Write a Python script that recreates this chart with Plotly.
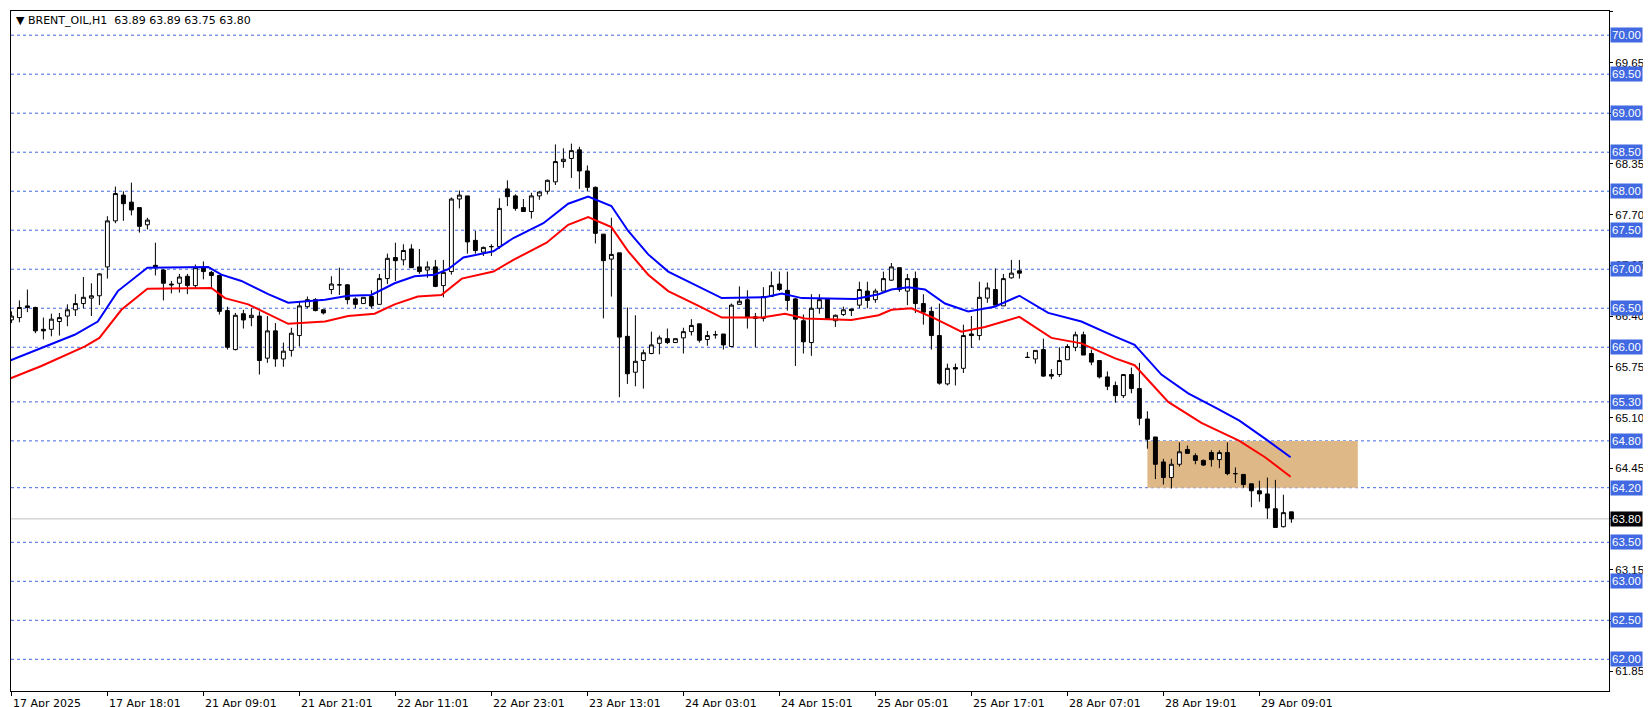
import plotly.graph_objects as go

# OHLC per hourly bar (index = bar number)
opens = [66.35,66.38,66.53,66.51,66.23,66.23,66.33,66.40,66.48,66.56,66.63,66.66,67.03,67.62,67.95,67.86,67.79,67.57,67.05,66.99,
         66.81,66.82,66.91,66.79,67.02,66.96,66.92,66.47,65.97,66.43,66.38,66.40,65.86,66.21,65.85,65.96,66.15,66.52,66.61,66.48,
         66.74,66.80,66.80,66.62,66.56,66.65,66.55,66.88,67.15,67.12,67.26,67.03,66.99,67.03,66.79,66.97,67.90,67.94,67.37,67.22,
         67.29,67.29,68.03,67.94,67.79,67.74,67.94,68.00,68.12,68.38,68.42,68.53,68.26,68.05,67.45,67.13,67.21,66.14,65.68,65.83,
         65.92,66.05,66.11,66.06,66.12,66.20,66.30,66.10,66.16,66.17,66.01,66.55,66.61,66.39,66.37,66.65,66.81,66.73,66.62,66.34,
         66.06,66.50,66.62,66.34,66.42,66.49,66.54,66.72,66.61,66.72,66.86,67.02,66.72,66.88,66.56,66.46,66.15,65.53,65.74,65.73,
         66.17,66.15,66.63,66.74,66.53,66.89,66.98,65.87,65.85,65.97,65.65,65.65,65.84,66.00,66.16,65.92,65.83,65.62,65.51,65.38,
         65.65,65.47,65.08,64.85,64.53,64.33,64.50,64.69,64.61,64.55,64.65,64.56,64.65,64.38,64.37,64.25,64.16,64.12,63.93,63.70,
         63.89]
highs = [66.46,66.60,66.74,66.52,66.38,66.43,66.44,66.55,66.68,66.90,66.82,66.95,67.68,68.06,68.00,68.11,67.79,67.66,67.34,67.00,
         66.85,66.94,66.94,67.06,67.10,66.98,66.93,66.52,66.44,66.48,66.50,66.46,66.40,66.31,66.06,66.25,66.59,66.65,66.63,66.48,
         66.91,67.02,66.81,66.64,66.64,66.73,66.94,67.20,67.34,67.32,67.32,67.26,67.10,67.12,67.12,67.92,68.01,67.94,67.49,67.29,
         67.32,67.91,68.14,67.96,67.90,67.98,68.00,68.15,68.60,68.55,68.61,68.57,68.33,68.06,67.45,67.66,67.21,66.51,66.41,65.97,
         66.20,66.15,66.24,66.11,66.25,66.36,66.30,66.21,66.21,66.17,66.56,66.78,66.73,66.44,66.77,66.97,66.97,66.97,66.63,66.42,
         66.68,66.68,66.62,66.42,66.52,66.49,66.84,66.84,66.75,66.97,67.08,67.02,66.94,66.97,66.68,66.52,66.56,65.79,65.79,66.29,
         66.40,66.84,66.83,67.01,66.94,67.12,67.12,65.94,65.96,66.11,65.72,66.00,66.04,66.20,66.20,65.97,65.83,65.69,65.56,65.65,
         65.74,65.80,65.18,64.85,64.57,64.57,64.78,64.74,64.64,64.56,64.68,64.68,64.78,64.46,64.37,64.25,64.29,64.33,64.30,64.11,
         63.89]
lows = [66.31,66.32,66.45,66.18,66.10,66.14,66.15,66.27,66.40,66.50,66.40,66.54,66.88,67.59,67.62,67.69,67.47,67.51,66.92,66.60,
        66.69,66.70,66.68,66.76,66.87,66.76,66.42,65.97,65.96,66.24,66.27,65.65,65.80,65.75,65.75,65.88,66.01,66.50,66.46,66.42,
        66.68,66.67,66.55,66.50,66.56,66.50,66.55,66.81,66.85,67.05,67.02,66.94,66.89,66.77,66.64,66.93,67.78,67.20,67.20,67.17,
        67.17,67.26,67.81,67.75,67.74,67.65,67.89,67.96,68.08,68.30,68.17,68.03,68.00,67.33,66.37,66.65,65.36,65.53,65.50,65.47,
        65.91,65.91,66.04,66.06,65.92,66.15,66.06,66.02,66.11,65.97,66.01,66.55,66.24,66.00,66.33,66.65,66.72,66.47,65.76,65.92,
        65.89,66.43,66.36,66.26,66.40,66.40,66.50,66.50,66.57,66.72,66.85,66.71,66.54,66.44,66.29,65.97,65.52,65.51,65.51,65.67,
        65.99,66.09,66.57,66.54,66.53,66.88,66.88,65.87,65.79,65.62,65.59,65.62,65.84,65.95,65.90,65.77,65.60,65.45,65.29,65.35,
        65.41,65.00,64.70,64.31,64.24,64.19,64.47,64.64,64.50,64.48,64.47,64.45,64.36,64.26,64.20,63.95,64.02,63.80,63.69,63.69,
        63.75]
closes = [66.40,66.51,66.51,66.21,66.21,66.36,66.38,66.48,66.56,66.64,66.66,66.94,67.62,67.97,67.84,67.76,67.55,67.63,67.02,66.82,
          66.80,66.90,66.79,67.02,66.97,66.92,66.46,66.00,66.41,66.35,66.41,65.83,66.21,65.85,65.95,66.18,66.53,66.61,66.47,66.44,
          66.81,66.80,66.61,66.55,66.64,66.53,66.88,67.14,67.11,67.24,67.02,66.97,67.03,66.78,66.96,67.90,67.95,67.35,67.24,67.28,
          67.29,67.78,67.93,67.78,67.74,67.94,67.99,68.14,68.38,68.41,68.52,68.26,68.05,67.46,67.11,67.19,66.13,65.66,65.82,65.93,
          66.03,66.12,66.06,66.11,66.20,66.28,66.09,66.15,66.16,66.03,66.54,66.59,66.38,66.37,66.65,66.79,66.74,66.60,66.36,66.07,
          66.50,66.61,66.36,66.41,66.48,66.47,66.74,66.60,66.72,66.88,67.03,66.74,66.88,66.56,66.45,66.15,65.54,65.73,65.72,66.15,
          66.15,66.64,66.76,66.54,66.88,66.95,66.95,65.87,65.96,65.63,65.63,65.83,66.01,66.16,65.90,65.81,65.62,65.50,65.38,65.65,
          65.47,65.09,64.82,64.50,64.33,64.50,64.66,64.64,64.55,64.49,64.56,64.65,64.38,64.38,64.24,64.16,64.12,63.94,63.69,63.88,
          63.80]

# moving averages read at sample bars
blue_x = [-0.4,3.75,7.9,10.8,13.3,17,24.6,26.25,28.75,32.1,34.6,39.2,42.1,45,47.9,50.4,52.9,54.6,56.5,60.25,62.75,66.5,69.6,72.1,
          75,77.1,79.6,82.1,85.9,88.8,94.2,96.3,98.8,105.5,108.4,110,112.1,114.2,116.7,119.6,122.9,126,129.6,133.75,137.9,140.4,
          143.75,147.1,150.8,153.5,157.1,159.9]
blue_y = [65.82,65.99,66.16,66.33,66.72,67.02,67.03,66.93,66.85,66.68,66.57,66.61,66.66,66.67,66.82,66.91,66.93,67.00,67.15,67.23,
          67.40,67.59,67.84,67.93,67.81,67.49,67.19,66.97,66.78,66.63,66.64,66.69,66.63,66.62,66.68,66.74,66.77,66.74,66.56,66.46,
          66.52,66.66,66.44,66.33,66.14,66.03,65.65,65.41,65.21,65.06,64.80,64.59]
red_x = [-0.4,3.75,9.2,11,13.75,17,25,26.7,29.6,32.1,34.6,39.2,42.1,45.4,47.9,50.8,53.75,56.3,60.25,62.75,66.9,69.6,72.1,75,77.1,
         79.6,82.1,85.9,88.8,93.8,96.7,99.2,105,108.4,110,112.5,115.4,118.75,121.7,126,130,133.75,137.9,140.4,144.6,148.75,153.5,
         156.7,159.9]
red_y = [65.59,65.76,66.01,66.12,66.48,66.75,66.76,66.63,66.55,66.42,66.30,66.33,66.40,66.43,66.55,66.65,66.67,66.88,66.97,67.12,
         67.34,67.57,67.67,67.54,67.23,66.93,66.72,66.53,66.38,66.38,66.43,66.37,66.35,66.41,66.48,66.50,66.37,66.20,66.26,66.39,
         66.12,66.05,65.86,65.77,65.30,65.03,64.80,64.59,64.34]

level_lines = [70.00,69.50,69.00,68.50,68.00,67.50,67.00,66.50,66.00,65.30,64.80,64.20,63.50,63.00,62.50,62.00]
axis_ticks = [61.85,62.50,63.15,63.80,64.45,65.10,65.75,66.40,67.05,67.70,68.35,69.00,69.65,70.30]
x_tick_bars = [0,12,24,36,48,60,72,84,96,108,120,132,144,156]
x_tick_labels = ["17 Apr 2025","17 Apr 18:01","21 Apr 09:01","21 Apr 21:01","22 Apr 11:01","22 Apr 23:01",
                 "23 Apr 13:01","24 Apr 03:01","24 Apr 15:01","25 Apr 05:01","25 Apr 17:01","28 Apr 07:01",
                 "28 Apr 19:01","29 Apr 09:01"]
last_price = 63.80
zone = (142.0, 168.3, 64.20, 64.80)
title = "BRENT_OIL,H1  63.89 63.89 63.75 63.80"

FONT = "DejaVu Sans"
NFONT = "Liberation Sans"
FS = 11
NFS = 11.5
LVL = "#4169E1"
bars = list(range(len(opens)))

fig = go.Figure()
fig.add_shape(type="rect", x0=zone[0], x1=zone[1], y0=zone[2], y1=zone[3],
              fillcolor="#DEB887", line_width=0, layer="below")
for lv in level_lines:
    fig.add_shape(type="line", xref="paper", x0=0, x1=1, y0=lv, y1=lv,
                  line=dict(color=LVL, width=1, dash="3px,3px"), layer="below")
fig.add_shape(type="line", xref="paper", x0=0, x1=1, y0=last_price, y1=last_price,
              line=dict(color="#C0C0C0", width=1), layer="below")

fig.add_trace(go.Candlestick(
    x=bars, open=opens, high=highs, low=lows, close=closes,
    increasing=dict(line=dict(color="black", width=1), fillcolor="white"),
    decreasing=dict(line=dict(color="black", width=1), fillcolor="black"),
    whiskerwidth=0, showlegend=False, hoverinfo="skip"))
fig.add_trace(go.Scatter(x=blue_x, y=blue_y, mode="lines", line=dict(color="#0000FF", width=2),
                         showlegend=False, hoverinfo="skip"))
fig.add_trace(go.Scatter(x=red_x, y=red_y, mode="lines", line=dict(color="#FF0000", width=2),
                         showlegend=False, hoverinfo="skip"))

ann = []
for lv in level_lines:
    ann.append(dict(xref="paper", x=1, y=lv, xanchor="left", yanchor="middle", xshift=1,
                    text=f"{lv:.2f}", showarrow=False, bgcolor=LVL, borderpad=1,
                    font=dict(color="white", size=NFS, family=NFONT)))
ann.append(dict(xref="paper", x=1, y=last_price, xanchor="left", yanchor="middle", xshift=1,
                text=f"{last_price:.2f}", showarrow=False, bgcolor="black", borderpad=1,
                font=dict(color="white", size=NFS, family=NFONT)))
for b, t in zip(x_tick_bars, x_tick_labels):
    ann.append(dict(x=b, xref="x", yref="paper", y=0, yanchor="top", xanchor="left", yshift=-4,
                    text=t, showarrow=False, font=dict(color="black", size=FS, family=FONT)))
ann.append(dict(xref="paper", yref="paper", x=0, y=1, xanchor="left", yanchor="top", xshift=3, yshift=-1,
                text="▼ " + title, showarrow=False, font=dict(color="black", size=FS, family=FONT)))

covered = set(round(v, 2) for v in level_lines + [last_price])
fig.update_layout(
    width=1651, height=707, margin=dict(l=3, r=50, t=3, b=24),
    paper_bgcolor="white", plot_bgcolor="white", annotations=ann,
    xaxis=dict(range=[-0.05, 199.7], rangeslider=dict(visible=False), showgrid=False, zeroline=False,
               tickvals=x_tick_bars, ticktext=[""] * len(x_tick_bars), ticks="outside", ticklen=4,
               tickcolor="black", showline=True, linecolor="black", mirror=True, linewidth=1),
    yaxis=dict(range=[61.594, 70.31], side="right", showgrid=False, zeroline=False,
               tickvals=axis_ticks,
               ticktext=["" if round(v, 2) in covered else f"{v:.2f}" for v in axis_ticks],
               ticks="outside", ticklen=3, tickcolor="black", showline=True, linecolor="black",
               mirror=True, linewidth=1, tickfont=dict(color="black", size=NFS, family=NFONT)),
)
fig.write_html("out.html")
